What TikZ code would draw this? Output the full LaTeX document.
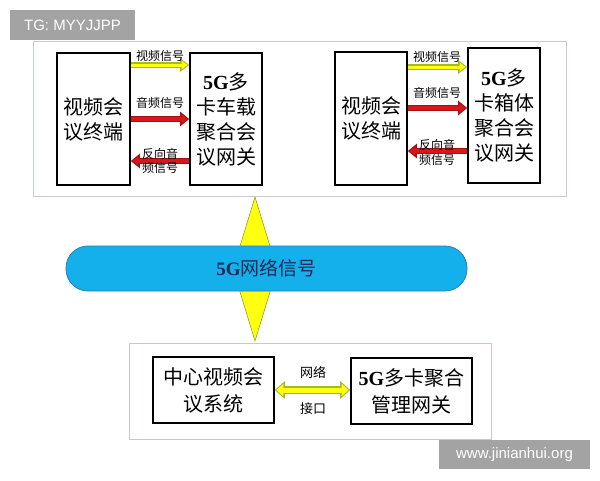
\documentclass[tikz,border=0pt]{standalone}
\usepackage{fontspec}
\setmainfont{Noto Sans CJK SC}
\newfontfamily\tnr{Liberation Serif}
\newfontfamily\wmfont{Liberation Sans}
\usetikzlibrary{arrows.meta,calc}
\definecolor{ygreen}{HTML}{A8B820}
\definecolor{yfill}{HTML}{FFFF10}
\definecolor{rdark}{HTML}{A80E12}
\definecolor{rmid}{HTML}{D8161C}
\definecolor{cyanfill}{HTML}{14B0EC}
\definecolor{cyanedge}{HTML}{2A7FB0}
\definecolor{navy}{HTML}{1E2A56}
\definecolor{frameA}{HTML}{C4CCD8}
\definecolor{frameB}{HTML}{D4C4C6}
\definecolor{wmgray}{HTML}{A3A3A3}
\begin{document}
\begin{tikzpicture}[x=1pt,y=-1pt,
  blk/.style={draw=black,line width=1.6pt,fill=white,align=center,inner sep=0pt,
    font=\fontsize{20}{25}\selectfont},
  lbl/.style={align=center,inner sep=0pt,font=\fontsize{12}{15}\selectfont},
  yar/.style={draw=ygreen,line width=6pt,-{Triangle[length=9pt,width=13pt]},
    postaction={draw=yfill,line width=3pt,-{Triangle[length=6pt,width=8.5pt]},shorten >=1.6pt}},
  rar/.style={draw=rdark,line width=6.5pt,-{Triangle[length=9pt,width=14pt]},
    postaction={draw=rmid,line width=3.5pt,-{Triangle[length=6pt,width=9pt]},shorten >=1.6pt}},
  ydar/.style={draw=ygreen,line width=8pt,{Triangle[length=10pt,width=17pt]}-{Triangle[length=10pt,width=17pt]},
    postaction={draw=yfill,line width=5pt,{Triangle[length=7pt,width=12pt]}-{Triangle[length=7pt,width=12pt]},shorten >=1.6pt,shorten <=1.6pt}},
  wm/.style={fill=wmgray,text=white,inner sep=0pt,font=\wmfont\fontsize{15}{18}\selectfont}
]
\useasboundingbox[fill=white] (0,0) rectangle (600,480);

% outer frames
\node[draw=frameA,line width=1pt,minimum width=533pt,minimum height=155pt,inner sep=0pt] (topframe) at (299.5,118.5) {};
\node[draw=frameB,line width=1pt,minimum width=362pt,minimum height=96pt,inner sep=0pt] (botframe) at (310,391) {};

% diamond double arrow (drawn behind the ellipse)
\coordinate (dt) at (255,197);
\coordinate (db) at (255,341);
\filldraw[fill=yfill,draw=ygreen!80!black,line width=0.5pt]
  (dt) -- ($(dt)!0.5!(db)+(22,0)$) -- (db) -- ($(dt)!0.5!(db)+(-22,0)$) -- cycle;

% 5G network band
\node[fill=cyanfill,draw=cyanedge,line width=0.8pt,rounded corners=22pt,
  minimum width=401pt,minimum height=45pt,inner sep=0pt,text=navy,
  font=\fontsize{19}{22}\selectfont] (net) at (266.5,268.5)
  {{\tnr\bfseries 5G}网络信号};

% left group
\node[blk,minimum width=73pt,minimum height=132pt] (t1) at (93.5,119) {视频会\\议终端};
\node[blk,minimum width=72pt,minimum height=132pt] (g1) at (226,119)
  {{\tnr\bfseries 5G}多\\卡车载\\聚合会\\议网关};
\draw[yar] (t1.east |- 0,65) -- (g1.west |- 0,65);
\draw[rar] (t1.east |- 0,119) -- (g1.west |- 0,119);
\draw[rar] (g1.west |- 0,161) -- (t1.east |- 0,161);
\node[lbl] (l1a) at (160,56) {视频信号};
\node[lbl] (l1b) at (160,103) {音频信号};
\node[lbl,font=\fontsize{12}{14}\selectfont] (l1c) at (160,161) {反向音\\频信号};

% right group
\node[blk,minimum width=72pt,minimum height=133pt] (t2) at (371,118.5) {视频会\\议终端};
\node[blk,minimum width=72pt,minimum height=135pt] (g2) at (504,115.5)
  {{\tnr\bfseries 5G}多\\卡箱体\\聚合会\\议网关};
\draw[yar] (t2.east |- 0,67) -- (g2.west |- 0,67);
\draw[rar] (t2.east |- 0,108) -- (g2.west |- 0,108);
\draw[rar] (g2.west |- 0,151) -- (t2.east |- 0,151);
\node[lbl] (l2a) at (437,57) {视频信号};
\node[lbl] (l2b) at (437,93) {音频信号};
\node[lbl,font=\fontsize{12}{15}\selectfont] (l2c) at (437,152) {反向音\\频信号};

% bottom group
\node[blk,minimum width=121pt,minimum height=66pt,font=\fontsize{20}{27}\selectfont] (cs) at (213.5,390) {中心视频会\\议系统};
\node[blk,minimum width=121pt,minimum height=66pt,font=\fontsize{20}{27}\selectfont] (mg) at (411.5,391)
  {{\tnr\bfseries 5G}多卡聚合\\管理网关};
\draw[ydar] (cs.east |- 0,390) -- (mg.west |- 0,390);
\node[lbl,font=\fontsize{13}{15}\selectfont] (nl) at (313,372) {网络};
\node[lbl,font=\fontsize{13}{15}\selectfont] (il) at (313,409) {接口};

% watermarks
\node[wm,minimum width=125pt,minimum height=30pt] (wm1) at (72.5,25) {TG: MYYJJPP};
\node[wm,minimum width=151pt,minimum height=29pt] (wm2) at (514.5,454.5) {www.jinianhui.org};
\end{tikzpicture}
\end{document}
